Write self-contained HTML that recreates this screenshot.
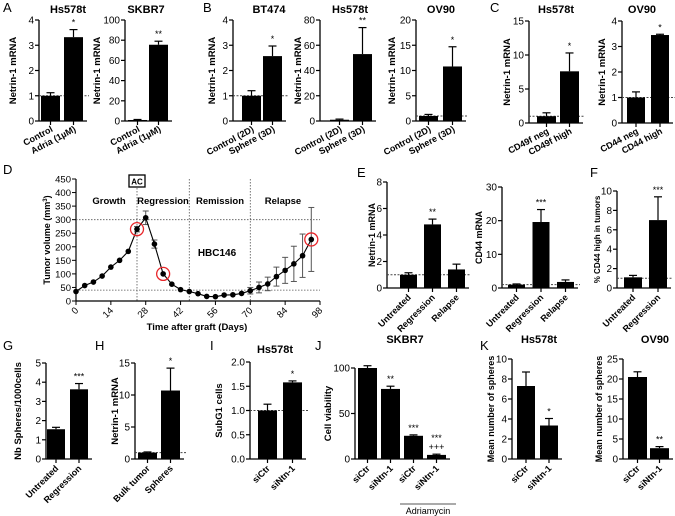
<!DOCTYPE html>
<html><head><meta charset="utf-8"><style>
html,body{margin:0;padding:0;background:#fff}
svg{display:block;font-family:"Liberation Sans",Arial,sans-serif}
</style></head><body>
<svg id="fig" width="675" height="516" viewBox="0 0 675 516" xmlns="http://www.w3.org/2000/svg"></svg>
<script>
// ---- data ----
const aHsCats=["Control","Adria (1µM)"], aHsVals=[1,3.32], aHsErr=[0.12,0.3], aHsStars=["","*"];
const aSkCats=["Control","Adria (1µM)"], aSkVals=[1,75.5], aSkErr=[0.5,3.5], aSkStars=["","**"];
const bBtCats=["Control (2D)","Sphere (3D)"], bBtVals=[1,2.57], bBtErr=[0.2,0.4], bBtStars=["","*"];
const bHsCats=["Control (2D)","Sphere (3D)"], bHsVals=[1,53], bHsErr=[0.5,21], bHsStars=["","**"];
const bOvCats=["Control (2D)","Sphere (3D)"], bOvVals=[1,10.8], bOvErr=[0.3,3.9], bOvStars=["","*"];
const cHsCats=["CD49f neg","CD49f high"], cHsVals=[1,7.6], cHsErr=[0.5,2.7], cHsStars=["","*"];
const cOvCats=["CD44 neg","CD44 high"], cOvVals=[1,3.45], cOvErr=[0.22,0.03], cOvStars=["","*"];
const eNtCats=["Untreated","Regression","Relapse"], eNtVals=[1,4.8,1.4], eNtErr=[0.15,0.4,0.4], eNtStars=["","**",""];
const eCdCats=["Untreated","Regression","Relapse"], eCdVals=[1,19.6,1.8], eCdErr=[0.2,3.7,0.6], eCdStars=["","***",""];
const fCats=["Untreated","Regression"], fVals=[1.1,7], fErr=[0.2,2.4], fStars=["","***"];
const gCats=["Untreated","Regression"], gVals=[1.55,3.63], gErr=[0.1,0.3], gStars=["","***"];
const hCats=["Bulk tumor","Spheres"], hVals=[1,10.7], hErr=[0.1,3.5], hStars=["","*"];
const iCats=["siCtr","siNtn-1"], iVals=[1,1.58], iErr=[0.13,0.03], iStars=["","*"];
const jCats=["siCtr","siNtn-1","siCtr","siNtn-1"], jVals=[100,77,25.5,4.5], jErr=[2.5,3,1,0.8], jStars=["","**","***","***\n+++"];
const kHsCats=["siCtr","siNtn-1"], kHsVals=[7.3,3.35], kHsErr=[1.4,0.7], kHsStars=["","*"];
const kOvCats=["siCtr","siNtn-1"], kOvVals=[20.5,2.7], kOvErr=[1.3,0.4], kOvStars=["","**"];
// tumor curve (D)
const dDays=[0,3.5,7,10.5,14,17.5,21,24.5,28,31.5,35,38.5,42,45.5,49,52.5,56,59.5,63,66.5,70,73.5,77,80.5,84,87.5,91,94.5];
const dVols=[35,57,70,92,125,150,183,265,307,210,100,62,42,35,27,17,16,22,23,28,38,50,63,90,113,137,167,227];
const dErrs=[0,0,0,0,0,0,0,10,25,15,0,0,0,0,0,0,0,0,0,0,12,20,25,35,48,65,80,118];
const dXTicks=[0,14,28,42,56,70,84,98];
const dYTicks=[0,50,100,150,200,250,300,350,400,450];

const NS="http://www.w3.org/2000/svg";
const svg=document.getElementById('fig');
function mk(tag,attrs,parent){const e=document.createElementNS(NS,tag);for(const k in attrs)e.setAttribute(k,attrs[k]);(parent||svg).appendChild(e);return e;}
function txt(s,attrs,parent){const e=mk('text',attrs,parent);e.textContent=s;return e;}

function panel(name,p,cats,vals,errs,stars){
  const g=mk('g',{});
  
  
  const y=v=>p.y0-(v/p.max)*(p.y0-p.y1);
  const right=p.bx+p.step*(cats.length-1)+p.bw+4;
  const ya=mk('line',{x1:p.ax,y1:p.y1,x2:p.ax,y2:p.y0,stroke:'#000','stroke-width':1.3},g);
  
  const xa=mk('line',{x1:p.ax,y1:p.y0,x2:right,y2:p.y0,stroke:'#000','stroke-width':1.3},g);
  
  p.ticks.forEach((t,i)=>{
    mk('line',{x1:p.ax-4,y1:y(t),x2:p.ax,y2:y(t),stroke:'#000','stroke-width':1.2},g);
    const tl=txt(p.tl?p.tl[i]:String(t),{x:p.ax-5,y:y(t)+3.5,'font-size':10,'text-anchor':'end'},g);
    
  });
  if(p.dash) mk('line',{x1:p.ax,y1:y(1),x2:right+2,y2:y(1),stroke:'#444','stroke-width':1,'stroke-dasharray':'2,1.5'},g);
  cats.forEach((c,i)=>{
    const bx=p.bx+i*p.step, cx=bx+p.bw/2;
    const r=mk('rect',{x:bx,y:y(vals[i]),width:p.bw,height:p.y0-y(vals[i]),fill:'#000'},g);
    
    const et=y(vals[i]+errs[i]);
    mk('line',{x1:cx,y1:y(vals[i]),x2:cx,y2:et,stroke:'#000','stroke-width':1.2},g);
    mk('line',{x1:cx-4,y1:et,x2:cx+4,y2:et,stroke:'#000','stroke-width':1.2},g);
    mk('line',{x1:cx,y1:p.y0,x2:cx,y2:p.y0+4,stroke:'#000','stroke-width':1.2},g);
    if(stars[i]){const parts=stars[i].split('\n');parts.forEach((s,k)=>{
      const st=txt(s,{x:cx,y:et-4-(parts.length-1-k)*9,'font-size':9,'text-anchor':'middle'},g);
      
    });}
    const lx=cx+3, ly=p.y0+10;
    const cl=txt(c,{x:lx,y:ly,'font-size':9,'font-weight':'bold','text-anchor':'end',transform:`rotate(${-p.rot} ${lx} ${ly})`},g);
    
  });
  if(p.title){const t=txt(p.title,{x:p.tx,y:p.ty,'font-size':11,'font-weight':'bold','text-anchor':'middle'},g);
    }
  const ym=(p.y0+p.y1)/2;
  const yl=txt(p.ylab,{x:p.lx,y:ym,'font-size':p.lfs||9.5,'font-weight':'bold','text-anchor':'middle',transform:`rotate(-90 ${p.lx} ${ym})`},g);
  
}
const NM="Netrin-1 mRNA";
panel('panel-a-hs578t',{ax:39,y1:20,y0:121,max:4,ticks:[0,1,2,3,4],bx:41,bw:19,step:23,dash:1,rot:28,title:'Hs578t',tx:68,ty:13,ylab:NM,lx:16},aHsCats,aHsVals,aHsErr,aHsStars);
panel('panel-a-skbr7',{ax:125,y1:20,y0:121,max:100,ticks:[0,20,40,60,80,100],bx:128,bw:19,step:21,rot:28,title:'SKBR7',tx:146,ty:13,ylab:NM,lx:100},aSkCats,aSkVals,aSkErr,aSkStars);
panel('panel-b-bt474',{ax:233,y1:20,y0:121,max:4,ticks:[0,1,2,3,4],bx:242,bw:19,step:21,dash:1,rot:28,title:'BT474',tx:269,ty:13,ylab:NM,lx:215},bBtCats,bBtVals,bBtErr,bBtStars);
panel('panel-b-hs578t',{ax:320,y1:20,y0:121,max:80,ticks:[0,20,40,60,80],bx:330,bw:19,step:23,rot:28,title:'Hs578t',tx:350,ty:13,ylab:NM,lx:301},bHsCats,bHsVals,bHsErr,bHsStars);
panel('panel-b-ov90',{ax:416,y1:20,y0:121,max:20,ticks:[0,5,10,15,20],bx:419,bw:19,step:24,dash:1,rot:28,title:'OV90',tx:441,ty:13,ylab:NM,lx:395},bOvCats,bOvVals,bOvErr,bOvStars);
panel('panel-c-hs578t',{ax:529,y1:21,y0:123,max:15,ticks:[0,5,10,15],bx:537,bw:19,step:23,dash:1,rot:28,title:'Hs578t',tx:556,ty:13,ylab:NM,lx:510},cHsCats,cHsVals,cHsErr,cHsStars);
panel('panel-c-ov90',{ax:622,y1:21,y0:123,max:4,ticks:[0,1,2,3,4],bx:627,bw:18,step:24,dash:1,rot:28,title:'OV90',tx:642,ty:13,ylab:NM,lx:605},cOvCats,cOvVals,cOvErr,cOvStars);
panel('panel-e-netrin',{ax:387,y1:182,y0:288,max:8,ticks:[0,2,4,6,8],bx:400,bw:17,step:24,dash:1,rot:45,ylab:NM,lx:375,lfs:9},eNtCats,eNtVals,eNtErr,eNtStars);
panel('panel-e-cd44',{ax:502,y1:187,y0:288,max:30,ticks:[0,10,20,30],bx:508,bw:17,step:24.5,dash:1,rot:45,ylab:'CD44 mRNA',lx:482,lfs:9},eCdCats,eCdVals,eCdErr,eCdStars);
panel('panel-f',{ax:617,y1:191,y0:288,max:10,ticks:[0,2,4,6,8,10],bx:624,bw:18,step:25,dash:1,rot:45,ylab:'% CD44 high in tumors',lx:600,lfs:8},fCats,fVals,fErr,fStars);
panel('panel-g',{ax:46,y1:363,y0:459,max:5,ticks:[0,1,2,3,4,5],bx:47,bw:18,step:23,rot:45,ylab:'Nb Spheres/1000cells',lx:21},gCats,gVals,gErr,gStars);
panel('panel-h',{ax:135,y1:363,y0:459,max:15,ticks:[0,5,10,15],bx:138,bw:19,step:23,dash:1,rot:45,ylab:NM,lx:118},hCats,hVals,hErr,hStars);
panel('panel-i',{ax:250,y1:362,y0:459,max:2,ticks:[0,0.5,1,1.5,2],tl:['0.0','0.5','1.0','1.5','2.0'],bx:258,bw:19,step:25,dash:1,rot:45,title:'Hs578t',tx:275,ty:353,ylab:'SubG1 cells',lx:222},iCats,iVals,iErr,iStars);
panel('panel-j',{ax:355,y1:368,y0:459,max:100,ticks:[0,50,100],bx:358,bw:19,step:23,rot:45,title:'SKBR7',tx:405,ty:343,ylab:'Cell viability',lx:331},jCats,jVals,jErr,jStars);
panel('panel-k-hs578t',{ax:512,y1:359,y0:459,max:10,ticks:[0,2,4,6,8,10],bx:517,bw:18,step:23,rot:45,title:'Hs578t',tx:539,ty:343,ylab:'Mean number of spheres',lx:494,lfs:9},kHsCats,kHsVals,kHsErr,kHsStars);
panel('panel-k-ov90',{ax:623,y1:359,y0:459,max:25,ticks:[0,5,10,15,20,25],bx:628,bw:19,step:22,rot:45,title:'OV90',tx:655,ty:343,ylab:'Mean number of spheres',lx:602,lfs:9},kOvCats,kOvVals,kOvErr,kOvStars);
mk('line',{x1:400,y1:504,x2:456,y2:504,stroke:'#555','stroke-width':1});
const adr=txt('Adriamycin',{x:428,y:514,'font-size':9,'text-anchor':'middle'});


// ---- Panel D ----
(function(){
  const g=mk('g',{});
  
  
  const X0=76,X1=320,Y0=301,Y1=179;
  const x=d=>X0+d/98*(X1-X0), y=v=>Y0-v/450*(Y0-Y1);
  mk('line',{x1:X0,y1:Y1,x2:X0,y2:Y0,stroke:'#000','stroke-width':1.2},g);
  mk('line',{x1:X0,y1:Y0,x2:X1,y2:Y0,stroke:'#000','stroke-width':1.2},g);
  dYTicks.forEach(t=>{mk('line',{x1:X0-4,y1:y(t),x2:X0,y2:y(t),stroke:'#000'},g);
    const l=txt(String(t),{x:X0-5,y:y(t)+3.5,'font-size':9.5,'text-anchor':'end'},g);
    });
  dXTicks.forEach(t=>{mk('line',{x1:x(t),y1:Y0,x2:x(t),y2:Y0+4,stroke:'#000'},g);
    const lx=x(t)+3,ly=Y0+10;
    const l=txt(String(t),{x:lx,y:ly,'font-size':9.5,'text-anchor':'end',transform:`rotate(-45 ${lx} ${ly})`},g);
    });
  [24.5,45.5,70].forEach(d=>mk('line',{x1:x(d),y1:Y1,x2:x(d),y2:Y0,stroke:'#555','stroke-width':0.8,'stroke-dasharray':'1.5,1.5'},g));
  [300,40].forEach(v=>mk('line',{x1:X0,y1:y(v),x2:X1,y2:y(v),stroke:'#555','stroke-width':0.8,'stroke-dasharray':'1.5,1.5'},g));
  dDays.forEach((d,i)=>{if(dErrs[i]){mk('line',{x1:x(d),y1:y(dVols[i]-dErrs[i]),x2:x(d),y2:y(dVols[i]+dErrs[i]),stroke:'#555','stroke-width':1},g);
    [dVols[i]-dErrs[i],dVols[i]+dErrs[i]].forEach(v=>mk('line',{x1:x(d)-3,y1:y(v),x2:x(d)+3,y2:y(v),stroke:'#555'},g));}});
  const line=mk('polyline',{points:dDays.map((d,i)=>x(d)+','+y(dVols[i])).join(' '),fill:'none',stroke:'#000','stroke-width':1.1},g);
  
  dDays.forEach((d,i)=>{const c=mk('circle',{cx:x(d),cy:y(dVols[i]),r:2.8,fill:'#000'},g);
    });
  [7,10,27].forEach(i=>{const c=mk('circle',{cx:x(dDays[i]),cy:y(dVols[i]),r:6.5,fill:'none',stroke:'#e8262a','stroke-width':1.3},g);
    });
  mk('rect',{x:x(24.5)-8,y:175,width:16,height:12,fill:'#fff',stroke:'#000','stroke-width':1.3},g);
  txt('AC',{x:x(24.5),y:184.5,'font-size':8,'font-weight':'bold','text-anchor':'middle'},g);
  [['Growth',109],['Regression',163],['Remission',220],['Relapse',283]].forEach(([s,px])=>{
    const l=txt(s,{x:px,y:204,'font-size':9.5,'font-weight':'bold','text-anchor':'middle'},g);
    });
  txt('HBC146',{x:217,y:256,'font-size':10,'font-weight':'bold','text-anchor':'middle'},g);
  const xt=txt('Time after graft (Days)',{x:197,y:330,'font-size':9.5,'font-weight':'bold','text-anchor':'middle'},g);
  
  const yt=txt('',{x:50,y:240,'font-size':9,'font-weight':'bold','text-anchor':'middle',transform:'rotate(-90 50 240)'},g);
  
  yt.innerHTML='Tumor volume (mm<tspan dy="-3" font-size="6">3</tspan><tspan dy="3">)</tspan>';
})();
[['A',3,12],['B',203,12],['C',490,12],['D',3,174],['E',357,177],['F',590,177],['G',3,350],['H',95,350],['I',210,350],['J',315,350],['K',480,350]].forEach(([s,px,py])=>{
  const l=txt(s,{x:px,y:py,'font-size':13});
  
  
});
</script>
</body></html>
